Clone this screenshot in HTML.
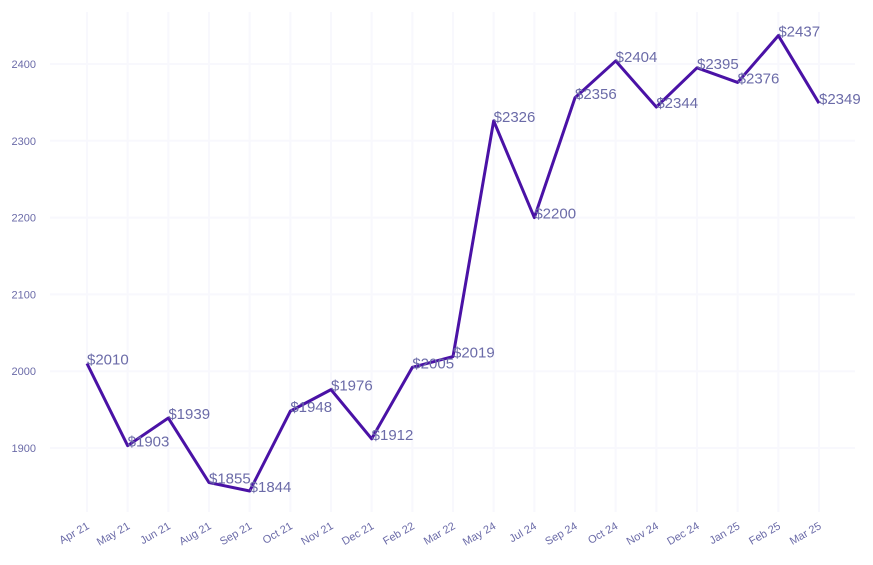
<!DOCTYPE html>
<html><head><meta charset="utf-8"><style>body{margin:0;background:#fff}svg{display:block;font-family:"Liberation Sans",sans-serif}</style></head>
<body>
<svg id="chart" width="873" height="565" xmlns="http://www.w3.org/2000/svg"></svg>
<script>
const categories=["Apr 21","May 21","Jun 21","Aug 21","Sep 21","Oct 21","Nov 21","Dec 21","Feb 22","Mar 22","May 24","Jul 24","Sep 24","Oct 24","Nov 24","Dec 24","Jan 25","Feb 25","Mar 25"];
const values=[2010,1903,1939,1855,1844,1948,1976,1912,2005,2019,2326,2200,2356,2404,2344,2395,2376,2437,2349];
const yTicks=[1900,2000,2100,2200,2300,2400];
const svg=document.getElementById('chart');
const NS='http://www.w3.org/2000/svg';
const x0=87,x1=819,plotL=50,plotR=855,plotT=12,plotB=512;
function xs(i){return x0+(x1-x0)*i/(categories.length-1);}
function ys(v){return 448+(1900-v)*(448-64)/500;}
function mk(t,a,p){const e=document.createElementNS(NS,t);for(const k in a)e.setAttribute(k,a[k]);(p||svg).appendChild(e);return e;}
const grid=mk('g',{});


yTicks.forEach(v=>{mk('line',{x1:plotL,x2:plotR,y1:ys(v),y2:ys(v),stroke:'#f8f8fd','stroke-width':2},grid);
const t=mk('text',{x:36,y:ys(v)+4,'font-size':11,fill:'#6b6ba8','text-anchor':'end'});t.textContent=v;

});
categories.forEach((c,i)=>{mk('line',{x1:xs(i),x2:xs(i),y1:plotT,y2:plotB,stroke:'#f8f8fd','stroke-width':2},grid);
const t=mk('text',{x:xs(i)+3,y:528,'font-size':11,fill:'#6b6ba8','text-anchor':'end',transform:`rotate(-30 ${xs(i)+3} 528)`});t.textContent=c;

});
const pts=values.map((v,i)=>xs(i)+','+ys(v)).join(' ');
const line=mk('polyline',{points:pts,fill:'none',stroke:'#4a12a6','stroke-width':3,'stroke-linejoin':'round'});


values.forEach((v,i)=>{const t=mk('text',{x:xs(i),y:ys(v)+1,'font-size':15,fill:'#6b6ba8'});t.textContent='$'+v;

});
</script>
</body></html>
